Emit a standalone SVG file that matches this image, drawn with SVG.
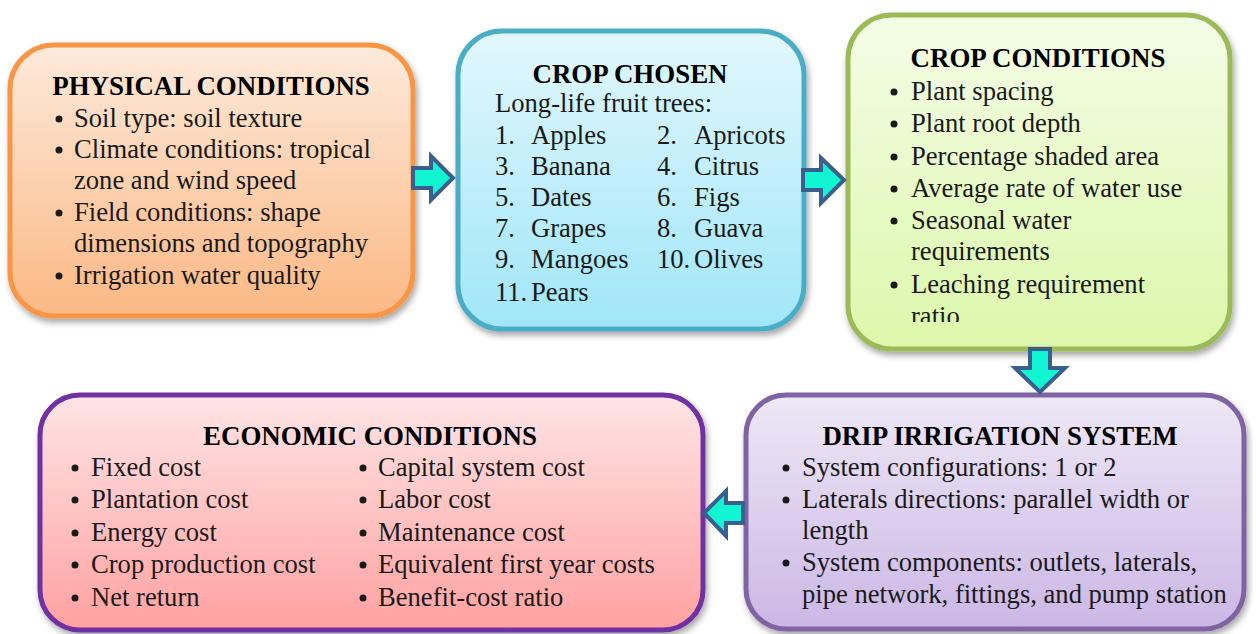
<svg xmlns="http://www.w3.org/2000/svg" width="1256" height="634" viewBox="0 0 1256 634">
<style>
.t{font-family:"Liberation Serif","Times New Roman",serif;font-size:26.6px;fill:#1a1a1a}
.h{font-family:"Liberation Serif","Times New Roman",serif;font-size:26.9px;font-weight:bold;fill:#000;text-anchor:middle}
.box{stroke-width:5}
.arr{fill:#12F5D2;stroke:#3A5E8E;stroke-width:4;stroke-linejoin:miter}
.b{fill:#1a1a1a}
</style>
<defs>
<filter id="sh" x="-10%" y="-10%" width="120%" height="125%">
<feDropShadow dx="2" dy="4" stdDeviation="3" flood-color="#000" flood-opacity="0.35"/>
</filter>
<linearGradient id="gO" x1="0" y1="0" x2="0" y2="1"><stop offset="0" stop-color="#FDEADB"/><stop offset="1" stop-color="#FBB884"/></linearGradient>
<linearGradient id="gB" x1="0" y1="0" x2="0" y2="1"><stop offset="0" stop-color="#E2F7FD"/><stop offset="1" stop-color="#A0E6F8"/></linearGradient>
<linearGradient id="gG" x1="0" y1="0" x2="0" y2="1"><stop offset="0" stop-color="#F4FDE6"/><stop offset="1" stop-color="#DCF7AB"/></linearGradient>
<linearGradient id="gP" x1="0" y1="0" x2="0" y2="1"><stop offset="0" stop-color="#EEE8F6"/><stop offset="1" stop-color="#CBB7E5"/></linearGradient>
<linearGradient id="gR" x1="0" y1="0" x2="0" y2="1"><stop offset="0" stop-color="#FFE5E6"/><stop offset="1" stop-color="#FFA1A1"/></linearGradient>
<clipPath id="ccClip"><rect x="848" y="15" width="382" height="307"/></clipPath>
</defs>

<g id="physical">
<rect class="box" x="10" y="45" width="403" height="271" rx="44" fill="url(#gO)" stroke="#F79646" filter="url(#sh)"/>
<text class="h" x="211" y="95">PHYSICAL CONDITIONS</text>
<circle class="b" cx="59" cy="119" r="3.5"/><text class="t" x="74" y="127">Soil type: soil texture</text>
<circle class="b" cx="59" cy="150" r="3.5"/><text class="t" x="74" y="158">Climate conditions: tropical</text>
<text class="t" x="74" y="189">zone and wind speed</text>
<circle class="b" cx="59" cy="213" r="3.5"/><text class="t" x="74" y="221">Field conditions: shape</text>
<text class="t" x="74" y="252">dimensions and topography</text>
<circle class="b" cx="59" cy="276" r="3.5"/><text class="t" x="74" y="284">Irrigation water quality</text>
</g>

<g id="crop-chosen">
<rect class="box" x="458" y="31" width="346" height="298" rx="44" fill="url(#gB)" stroke="#4BACC6" filter="url(#sh)"/>
<text class="h" x="630" y="83">CROP CHOSEN</text>
<text class="t" x="495" y="112">Long-life fruit trees:</text>
<text class="t" x="495" y="144">1.</text><text class="t" x="531" y="144">Apples</text>
<text class="t" x="657" y="144">2.</text><text class="t" x="694" y="144">Apricots</text>
<text class="t" x="495" y="175">3.</text><text class="t" x="531" y="175">Banana</text>
<text class="t" x="657" y="175">4.</text><text class="t" x="694" y="175">Citrus</text>
<text class="t" x="495" y="206">5.</text><text class="t" x="531" y="206">Dates</text>
<text class="t" x="657" y="206">6.</text><text class="t" x="694" y="206">Figs</text>
<text class="t" x="495" y="237">7.</text><text class="t" x="531" y="237">Grapes</text>
<text class="t" x="657" y="237">8.</text><text class="t" x="694" y="237">Guava</text>
<text class="t" x="495" y="268">9.</text><text class="t" x="531" y="268">Mangoes</text>
<text class="t" x="657" y="268">10.</text><text class="t" x="694" y="268">Olives</text>
<text class="t" x="495" y="301">11.</text><text class="t" x="531" y="301">Pears</text>
</g>

<g id="crop-conditions">
<rect class="box" x="848" y="15" width="382" height="334" rx="44" fill="url(#gG)" stroke="#9BBB59" filter="url(#sh)"/>
<g clip-path="url(#ccClip)">
<text class="h" x="1038" y="67">CROP CONDITIONS</text>
<circle class="b" cx="894" cy="92" r="3.5"/><text class="t" x="911" y="100">Plant spacing</text>
<circle class="b" cx="894" cy="124" r="3.5"/><text class="t" x="911" y="132">Plant root depth</text>
<circle class="b" cx="894" cy="157" r="3.5"/><text class="t" x="911" y="165">Percentage shaded area</text>
<circle class="b" cx="894" cy="189" r="3.5"/><text class="t" x="911" y="197">Average rate of water use</text>
<circle class="b" cx="894" cy="221" r="3.5"/><text class="t" x="911" y="229">Seasonal water</text>
<text class="t" x="911" y="260">requirements</text>
<circle class="b" cx="894" cy="285" r="3.5"/><text class="t" x="911" y="293">Leaching requirement</text>
<text class="t" x="911" y="325">ratio</text>
</g>
</g>

<g id="drip">
<rect class="box" x="746" y="395" width="498" height="234" rx="40" fill="url(#gP)" stroke="#8064A2" filter="url(#sh)"/>
<text class="h" x="1000" y="445">DRIP IRRIGATION SYSTEM</text>
<circle class="b" cx="786" cy="468" r="3.5"/><text class="t" x="802" y="476">System configurations: 1 or 2</text>
<circle class="b" cx="786" cy="500" r="3.5"/><text class="t" x="802" y="508">Laterals directions: parallel width or</text>
<text class="t" x="802" y="539">length</text>
<circle class="b" cx="786" cy="563" r="3.5"/><text class="t" x="802" y="571">System components: outlets, laterals,</text>
<text class="t" x="802" y="603">pipe network, fittings, and pump station</text>
</g>

<g id="economic">
<rect class="box" x="40" y="395" width="663" height="235" rx="40" fill="url(#gR)" stroke="#7030A0" filter="url(#sh)"/>
<text class="h" x="370" y="445">ECONOMIC CONDITIONS</text>
<circle class="b" cx="75" cy="468" r="3.5"/><text class="t" x="91" y="476">Fixed cost</text>
<circle class="b" cx="75" cy="500" r="3.5"/><text class="t" x="91" y="508">Plantation cost</text>
<circle class="b" cx="75" cy="533" r="3.5"/><text class="t" x="91" y="541">Energy cost</text>
<circle class="b" cx="75" cy="565" r="3.5"/><text class="t" x="91" y="573">Crop production cost</text>
<circle class="b" cx="75" cy="598" r="3.5"/><text class="t" x="91" y="606">Net return</text>
<circle class="b" cx="363" cy="468" r="3.5"/><text class="t" x="378" y="476">Capital system cost</text>
<circle class="b" cx="363" cy="500" r="3.5"/><text class="t" x="378" y="508">Labor cost</text>
<circle class="b" cx="363" cy="533" r="3.5"/><text class="t" x="378" y="541">Maintenance cost</text>
<circle class="b" cx="363" cy="565" r="3.5"/><text class="t" x="378" y="573">Equivalent first year costs</text>
<circle class="b" cx="363" cy="598" r="3.5"/><text class="t" x="378" y="606">Benefit-cost ratio</text>
</g>

<g id="connectors">
<polygon class="arr" points="413,168 431,168 431,156 453,178 431,200 431,188 413,188"/>
<polygon class="arr" points="803,170 821,170 821,158 844,180 821,203 821,190 803,190"/>
<polygon class="arr" points="1030,349 1050,349 1050,368 1065,368 1040,392 1015,368 1030,368"/>
<polygon class="arr" points="743,503 726,503 726,491 704,513 726,536 726,523 743,523"/>
</g>
</svg>
